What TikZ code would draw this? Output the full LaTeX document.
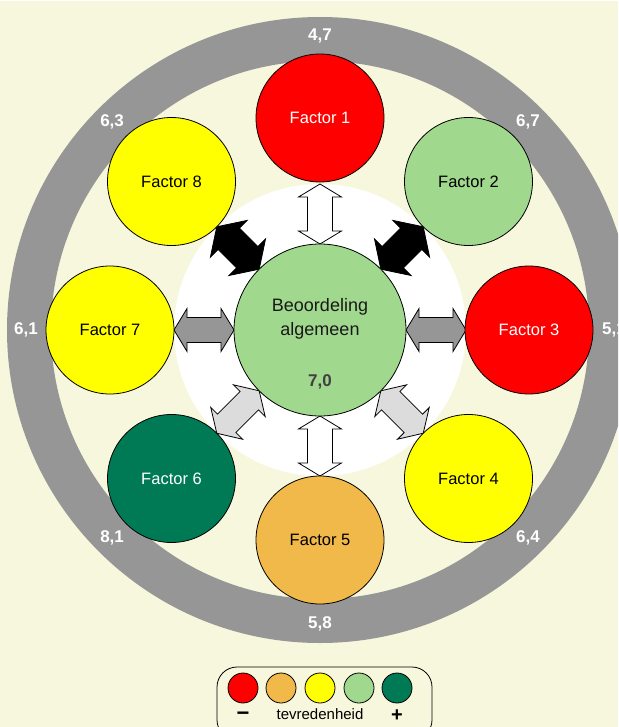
\documentclass[tikz,border=0pt]{standalone}
\usepackage{fontspec}
\setmainfont{Liberation Sans}
\usetikzlibrary{calc}
\definecolor{cream}{RGB}{247,247,222}
\definecolor{ringgray}{RGB}{150,150,150}
\definecolor{fred}{RGB}{255,0,0}
\definecolor{fyellow}{RGB}{255,255,0}
\definecolor{flgreen}{RGB}{160,216,142}
\definecolor{fdgreen}{RGB}{0,122,84}
\definecolor{forange}{RGB}{240,185,74}
\definecolor{agray}{RGB}{150,150,150}
\definecolor{alight}{RGB}{220,220,220}
\definecolor{valgray}{RGB}{64,64,64}
\newcommand\blockarrow[5]{%
 \pgfmathsetmacro\ra{86+#5}\pgfmathsetmacro\rb{146-#5}%
 \pgfmathsetmacro\pa{#1+90}\pgfmathsetmacro\pb{#1-90}%
 \draw[arrowline, fill=#2]
 ($(o)+(#1:86)$) -- ($(o)+(#1:\ra)+(\pa:#4)$) -- ($(o)+(#1:\ra)+(\pa:#3)$)
 -- ($(o)+(#1:\rb)+(\pa:#3)$) -- ($(o)+(#1:\rb)+(\pa:#4)$) -- ($(o)+(#1:146)$)
 -- ($(o)+(#1:\rb)+(\pb:#4)$) -- ($(o)+(#1:\rb)+(\pb:#3)$)
 -- ($(o)+(#1:\ra)+(\pb:#3)$) -- ($(o)+(#1:\ra)+(\pb:#4)$) -- cycle;}
\begin{document}
\begin{tikzpicture}[x=1pt,y=-1pt,
  arrowline/.style={line width=0.8pt, draw=black, line join=miter},
  factor/.style={circle, draw=black, line width=0.8pt, minimum size=128pt, inner sep=0pt,
    font=\fontsize{16.5}{19}\selectfont},
  legdot/.style={circle, draw=black, line width=0.8pt, minimum size=30pt, inner sep=0pt},
  ringlabel/.style={text=white, font=\fontsize{17}{20}\selectfont\bfseries, inner sep=0pt}]
\useasboundingbox (0,0) rectangle (618,727);
\clip (0,0) rectangle (618,727);
\fill[white] (0,0) rectangle (618,727);
\fill[cream] (0,1.5) rectangle (618,727);
\coordinate (o) at (320,330);
% ring
\fill[ringgray, even odd rule] (o) circle (313) (o) circle (269);
% white disk
\fill[white] (o) circle (146);
% arrows
\blockarrow{-90}{white}{12.5}{21.5}{13}
\blockarrow{90}{white}{12.5}{21.5}{13}
\blockarrow{0}{agray}{12.5}{21.5}{13}
\blockarrow{180}{agray}{12.5}{21.5}{13}
\blockarrow{-45}{black}{15}{26}{17}
\blockarrow{225}{black}{15}{26}{17}
\blockarrow{45}{alight}{13}{22.5}{14}
\blockarrow{135}{alight}{13}{22.5}{14}
% factors
\node[factor, fill=fred, text=white] (f1) at ($(o)+(-90:212)$) {Factor 1};
\node[factor, fill=flgreen] (f2) at ($(o)+(-45:210)$) {Factor 2};
\node[factor, fill=fred, text=white] (f3) at ($(o)+(0:209)$) {Factor 3};
\node[factor, fill=fyellow] (f4) at ($(o)+(45:210)$) {Factor 4};
\node[factor, fill=forange] (f5) at ($(o)+(90:210)$) {Factor 5};
\node[factor, fill=fdgreen, text=white] (f6) at ($(o)+(135:210)$) {Factor 6};
\node[factor, fill=fyellow] (f7) at ($(o)+(180:210)$) {Factor 7};
\node[factor, fill=fyellow] (f8) at ($(o)+(225:210)$) {Factor 8};
% centre
\node[circle, draw=black, line width=0.8pt, fill=flgreen, minimum size=172pt, inner sep=0pt] (c) at (o) {};
\node[align=center, font=\fontsize{18}{24}\selectfont, text=black!90, inner sep=0pt] (ctext) at (320,319) {Beoordeling\\algemeen};
\node[font=\fontsize{17}{20}\selectfont\bfseries, text=valgray, inner sep=0pt] (cval) at (320,382) {7,0};
% ring labels
\node[ringlabel] (r1) at ($(o)+(-90:294)$) {4,7};
\node[ringlabel] (r2) at ($(o)+(-45:294)$) {6,7};
\node[ringlabel] (r3) at ($(o)+(0:294)$) {5,1};
\node[ringlabel] (r4) at ($(o)+(45:294)$) {6,4};
\node[ringlabel] (r5) at ($(o)+(90:294)$) {5,8};
\node[ringlabel] (r6) at ($(o)+(135:294)$) {8,1};
\node[ringlabel] (r7) at ($(o)+(180:294)$) {6,1};
\node[ringlabel] (r8) at ($(o)+(225:294)$) {6,3};
% legend
\draw[line width=0.8pt, fill=cream, rounded corners=20pt] (217,667) rectangle (432,740);
\node[legdot, fill=fred] (l1) at (243,688) {};
\node[legdot, fill=forange] (l2) at (281,688) {};
\node[legdot, fill=fyellow] (l3) at (320,688) {};
\node[legdot, fill=flgreen] (l4) at (359,688) {};
\node[legdot, fill=fdgreen] (l5) at (397,688) {};
\node[font=\fontsize{15}{18}\selectfont, inner sep=0pt] (lt) at (320,714) {tevredenheid};
\node[font=\fontsize{22}{24}\selectfont\bfseries, inner sep=0pt] (lm) at (243,716) {−};
\node[font=\fontsize{20}{24}\selectfont\bfseries, inner sep=0pt] (lp) at (397,716) {+};
\end{tikzpicture}
\end{document}
